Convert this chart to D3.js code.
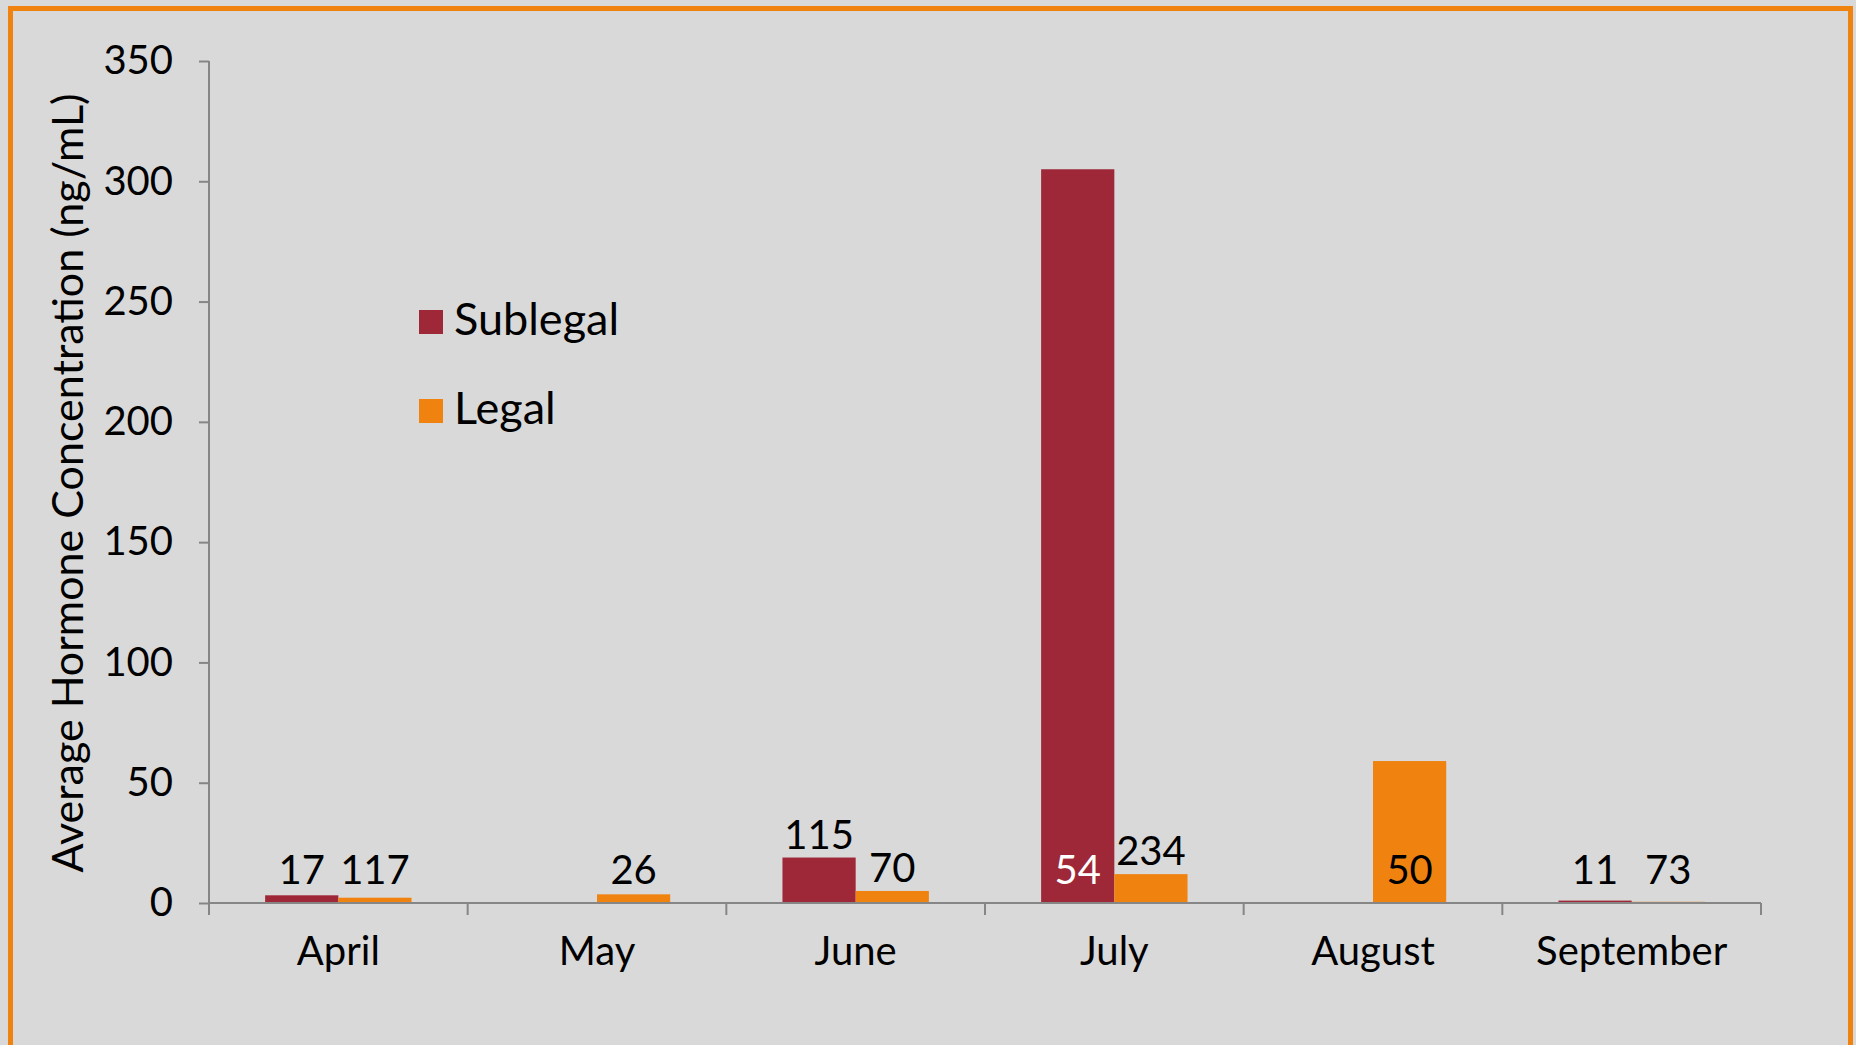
<!DOCTYPE html>
<html lang="en">
  <head>
    <meta charset="UTF-8" />
    <title>Average Hormone Concentration</title>
    <script src="https://d3js.org/d3.v7.min.js"></script>
    <style>
      html, body { margin: 0; padding: 0; background: #d9d9d9; }
      svg text { font-family: Lato, "Open Sans", sans-serif; fill: #000; }
    </style>
  </head>
  <body>
    <svg width="1856" height="1045"></svg>
    <script>
      // data
      const months = ["April", "May", "June", "July", "August", "September"];
      const series = ["Sublegal", "Legal"];
      const sublegal = [3.2, null, 18.9, 305, null, 1.0];
      const legal = [2.2, 3.6, 5.0, 12.0, 59, 0.5];
      // sample counts shown above the bars
      const sublegalN = ["17", null, "115", "54", null, "11"];
      const legalN = ["117", "26", "70", "234", "50", "73"];
      const yTicks = [0, 50, 100, 150, 200, 250, 300, 350];

      const colors = { Sublegal: "#9e2837", Legal: "#f0820f" };
      const svg = d3.select("svg");

      // frame
      svg.append("rect")
        .attr("x", 10.5).attr("y", 8.5)
        .attr("width", 1840).attr("height", 1060)
        .attr("fill", "#d9d9d9")
        .attr("stroke", "#f0820f")
        .attr("stroke-width", 5);

      const pLeft = 209, pRight = 1761, pTop = 61, pBottom = 903;

      const x = d3.scaleBand().domain(months).range([pLeft, pRight]);
      const xs = d3.scaleBand().domain(series)
        .range([x.bandwidth() * 0.217, x.bandwidth() * 0.783]);
      const y = d3.scaleLinear().domain([0, 350]).range([pBottom, pTop]);

      // rows for bars
      const rows = [];
      months.forEach((m, i) => {
        rows.push({ month: m, s: "Sublegal", v: sublegal[i], n: sublegalN[i] });
        rows.push({ month: m, s: "Legal", v: legal[i], n: legalN[i] });
      });
      const drawn = rows.filter(d => d.v != null);

      svg.append("g")
        .selectAll("rect")
        .data(drawn)
        .enter()
        .append("rect")
        .attr("x", d => x(d.month) + xs(d.s))
        .attr("y", d => y(d.v))
        .attr("width", xs.bandwidth())
        .attr("height", d => y(0) - y(d.v))
        .attr("fill", d => colors[d.s]);

      // y axis
      const yAxis = svg.append("g")
        .attr("transform", `translate(${pLeft},0)`)
        .call(d3.axisLeft(y).tickValues(yTicks).tickSize(10).tickPadding(26));
      // x axis
      const xAxis = svg.append("g")
        .attr("transform", `translate(0,${pBottom})`)
        .call(d3.axisBottom(x).tickSize(0).tickPadding(34));
      xAxis.selectAll(".tick text").attr("dy", "0.71em");

      [yAxis, xAxis].forEach(a => {
        a.select(".domain").attr("stroke", "#868686").attr("stroke-width", 2);
        a.selectAll(".tick line").attr("stroke", "#868686").attr("stroke-width", 2);
        a.selectAll(".tick text").attr("font-size", 40).attr("font-family", "Lato");
      });
      yAxis.select(".domain").attr("d", `M0,${pTop}V${pBottom}`);
      xAxis.select(".domain").attr("d", `M${pLeft},0H${pRight}`);

      // category separator ticks
      svg.append("g")
        .selectAll("line")
        .data(months.concat(["end"]))
        .enter()
        .append("line")
        .attr("x1", (d, i) => pLeft + i * x.bandwidth())
        .attr("x2", (d, i) => pLeft + i * x.bandwidth())
        .attr("y1", pBottom)
        .attr("y2", pBottom + 12)
        .attr("stroke", "#868686")
        .attr("stroke-width", 2);

      // data labels (counts), never lower than one common row
      svg.append("g")
        .selectAll("text")
        .data(rows.filter(d => d.n != null))
        .enter()
        .append("text")
        .attr("x", d => x(d.month) + xs(d.s) + xs.bandwidth() / 2)
        .attr("y", d => (d.v > 40 ? y(0) - 19 : Math.min(y(d.v) - 9, y(0) - 19)))
        .attr("text-anchor", "middle")
        .attr("font-size", 40)
        .style("fill", d => (d.v > 40 && d.s === "Sublegal" ? "#fff" : "#000"))
        .text(d => d.n);

      // y title
      svg.append("text")
        .attr("transform", "translate(83,483) rotate(-90)")
        .attr("text-anchor", "middle")
        .attr("font-size", 43)
        .text("Average Hormone Concentration (ng/mL)");

      // legend
      const legend = svg.append("g").attr("transform", "translate(419,310)");
      series.forEach((s, i) => {
        const g = legend.append("g").attr("transform", `translate(0,${i * 89})`);
        g.append("rect").attr("width", 24).attr("height", 24).attr("fill", colors[s]);
        g.append("text").attr("x", 35).attr("y", 25).attr("font-size", 45).text(s);
      });
    </script>
  </body>
</html>
